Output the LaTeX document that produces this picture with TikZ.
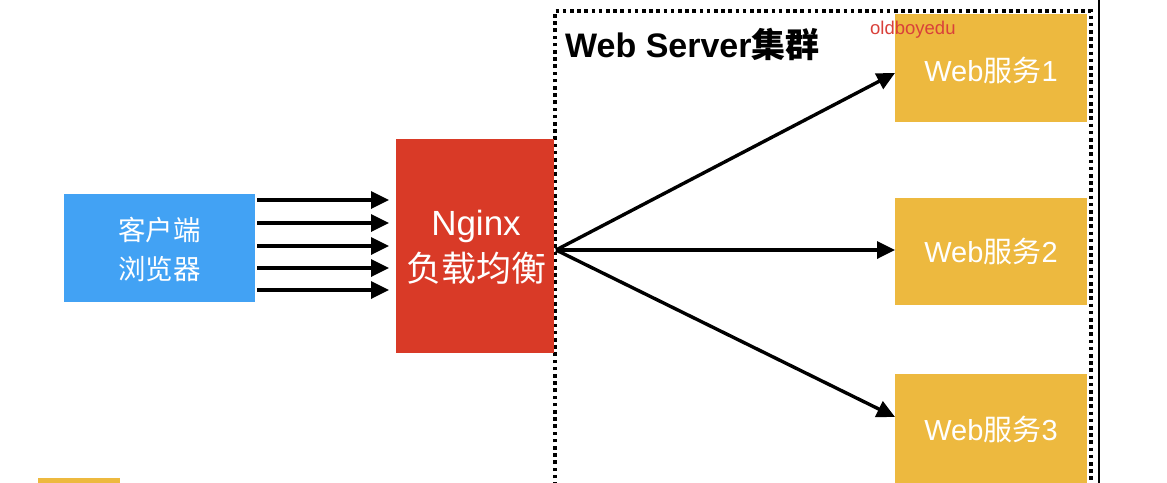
\documentclass[tikz,border=0pt]{standalone}
\usepackage{fontspec}
\setmainfont{Liberation Sans}
\newfontfamily\cjk{Noto Sans CJK SC}
\usetikzlibrary{arrows.meta}
\definecolor{cblue}{HTML}{42A2F4}
\definecolor{cred}{HTML}{D93A27}
\definecolor{cyel}{HTML}{EDB93F}
\definecolor{wmred}{HTML}{D9403A}
\tikzset{
  conn/.style={line width=3.4pt,-{Triangle[length=18pt,width=17pt]}},
  webtxt/.style={text=white,font=\fontsize{29}{32}\selectfont},
}
\begin{document}
\begin{tikzpicture}[x=1pt,y=-1pt]
\useasboundingbox (0,0) rectangle (1167,482);
\begin{scope}
\clip (0,0) rectangle (1167,482);
% dotted cluster border
\draw[line width=3.6pt,dash pattern=on 3.6pt off 3.6pt] (555,500) -- (555,11) -- (1091,11) -- (1091,500);
\draw[line width=1.6pt] (1099,-5) -- (1099,490);
% boxes
\fill[cblue] (64,194) rectangle (255,302);
\node[text=white,align=center,font=\cjk\fontsize{27.5}{39}\selectfont] (client) at (159.5,249) {客户端\\浏览器};
\fill[cred] (396,139) rectangle (554,353);
\node[text=white,align=center,font=\fontsize{35}{46}\selectfont] (nginx) at (476,247) {Nginx\\{\cjk\fontsize{35}{46}\selectfont 负载均衡}};
\coordinate (ngE) at (556,250);
\fill[cyel] (895,14) rectangle (1087,122);
\node[webtxt] (w1) at (991,70) {Web{\cjk 服务}1};
\fill[cyel] (895,198) rectangle (1087,305);
\node[webtxt] (w2) at (991,251) {Web{\cjk 服务}2};
\fill[cyel] (895,374) rectangle (1087,490);
\node[webtxt] (w3) at (991,429) {Web{\cjk 服务}3};
\coordinate (w1W) at (895,73);
\coordinate (w2W) at (895,250);
\coordinate (w3W) at (895,417);
\fill[cyel] (38,478) rectangle (120,490);
% labels
\node[anchor=west,inner sep=0pt,font=\bfseries\fontsize{34}{38}\selectfont] (title) at (565,44) {Web Server{\cjk\bfseries 集群}};
\node[anchor=west,text=wmred,font=\fontsize{18.5}{21}\selectfont,inner sep=0pt] (wm) at (870,30) {oldboyedu};
% arrows client -> nginx
\foreach \y in {200,223,246,268,290}{
  \coordinate (s\y) at (257,\y);
  \coordinate (e\y) at (389,\y);
  \draw[conn] (s\y) -- (e\y);
}
% nginx -> web
\draw[conn] (ngE) -- (w1W);
\draw[conn] (ngE) -- (w2W);
\draw[conn] (ngE) -- (w3W);
\end{scope}
\end{tikzpicture}
\end{document}
